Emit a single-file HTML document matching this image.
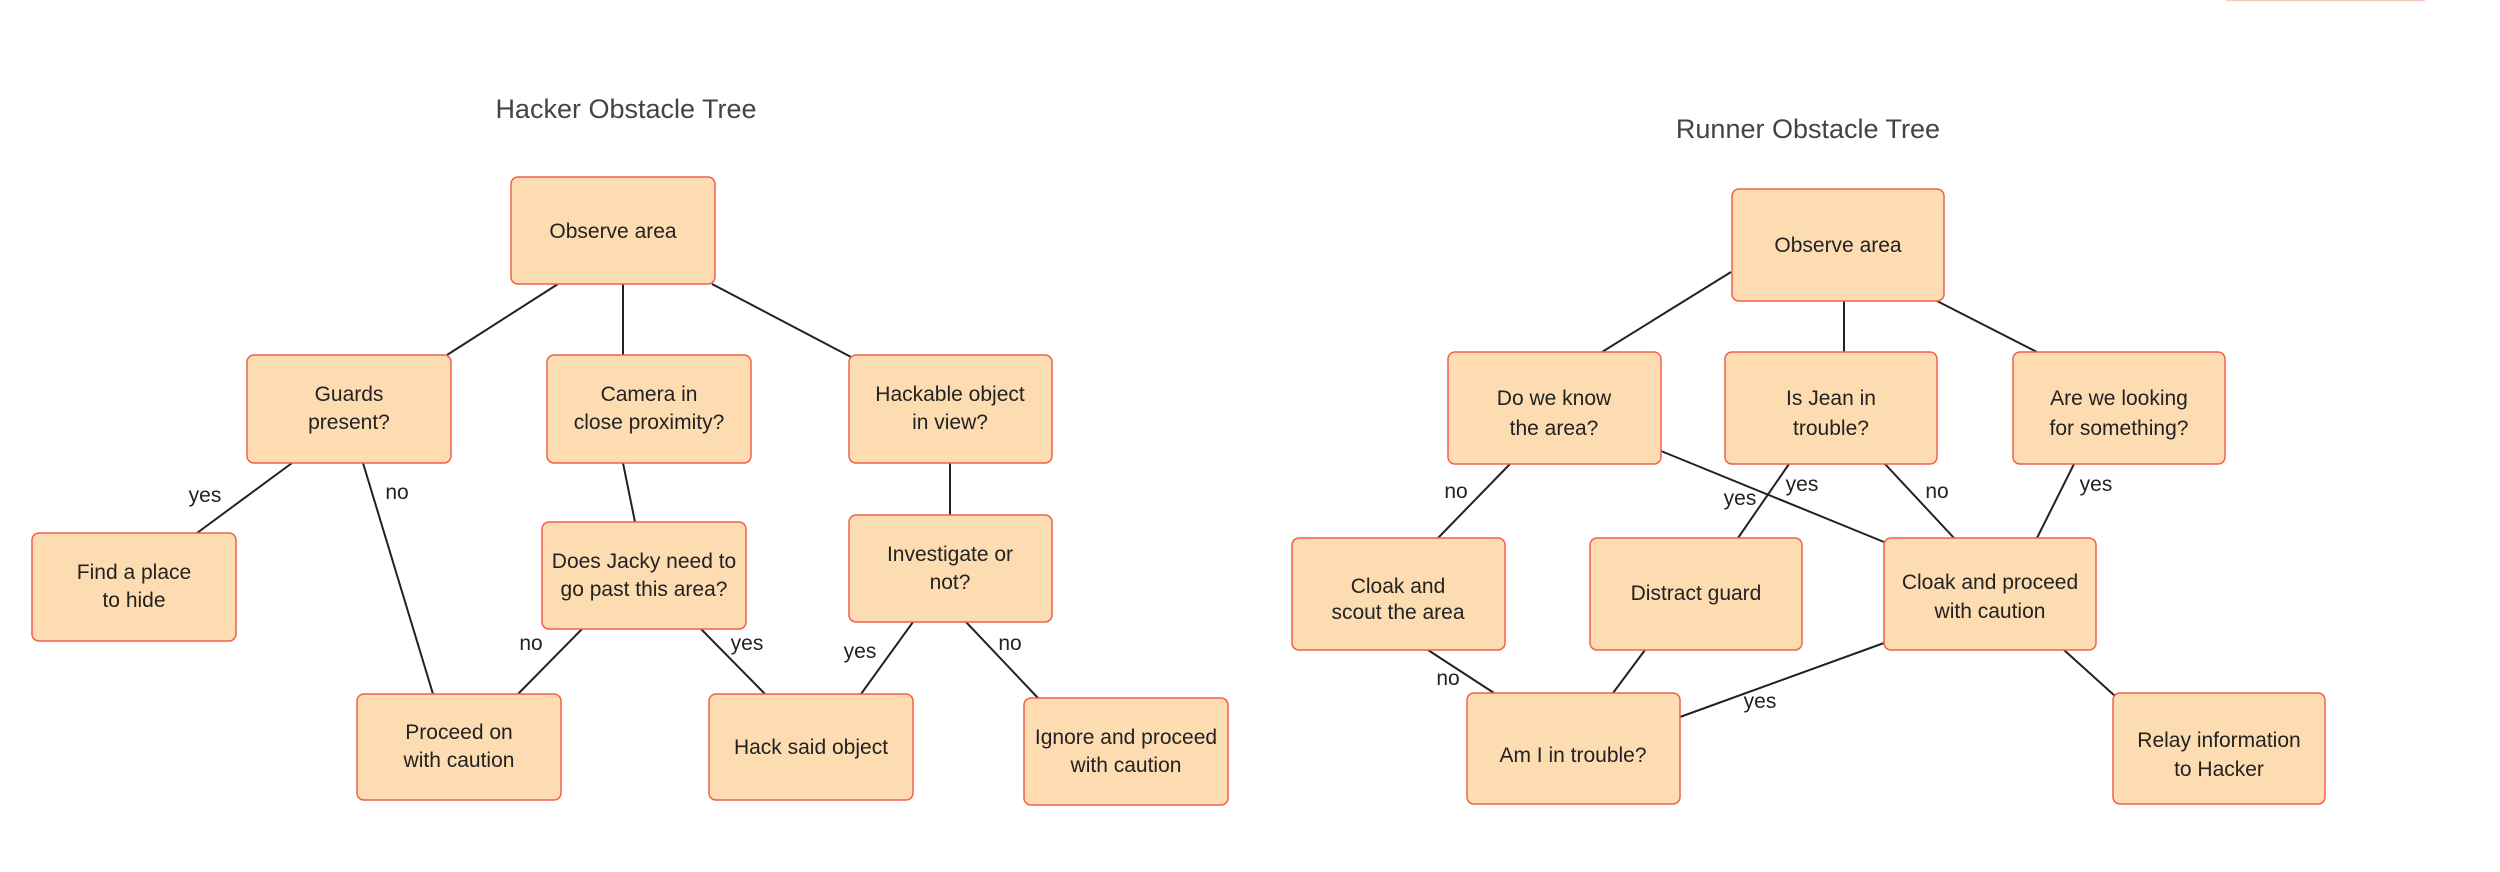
<!DOCTYPE html>
<html><head><meta charset="utf-8"><style>
html,body{margin:0;padding:0;background:#fff;}
svg{display:block;}
text{font-family:"Liberation Sans",sans-serif;}
.n{fill:#fedcb2;stroke:#f0604c;stroke-width:1.5;}
.t{font-size:21px;fill:#222;text-anchor:middle;}
.l{font-size:21px;fill:#222;text-anchor:middle;}
.e{stroke:#222;stroke-width:2;fill:none;}
.h{font-size:27px;fill:#444;text-anchor:middle;}
</style></head><body>
<svg width="2500" height="872" viewBox="0 0 2500 872" xmlns="http://www.w3.org/2000/svg">
<line x1="2226" y1="0.5" x2="2425" y2="0.5" stroke="#f7c9c0" stroke-width="1.5"/>
<text class="h" x="626" y="118">Hacker Obstacle Tree</text>
<text class="h" x="1808" y="138">Runner Obstacle Tree</text>

<!-- left edges -->
<g class="e">
<line x1="558" y1="284" x2="447" y2="355"/>
<line x1="623" y1="284" x2="623" y2="355"/>
<line x1="712" y1="284" x2="851" y2="357"/>
<line x1="292" y1="463" x2="197" y2="533"/>
<line x1="363" y1="463" x2="433" y2="694"/>
<line x1="623" y1="463" x2="635" y2="522"/>
<line x1="582" y1="629" x2="518" y2="694"/>
<line x1="701" y1="629" x2="765" y2="694"/>
<line x1="950" y1="463" x2="950" y2="515"/>
<line x1="913" y1="622" x2="861" y2="694"/>
<line x1="966" y1="622" x2="1038" y2="698"/>
</g>
<!-- right edges -->
<g class="e">
<line x1="1731" y1="272" x2="1602" y2="352"/>
<line x1="1844" y1="301" x2="1844" y2="352"/>
<line x1="1937" y1="301" x2="2037" y2="352"/>
<line x1="1510" y1="464" x2="1438" y2="538"/>
<line x1="1661" y1="451" x2="1884" y2="542"/>
<line x1="1789" y1="464" x2="1738" y2="538"/>
<line x1="1885" y1="464" x2="1954" y2="538"/>
<line x1="2074" y1="464" x2="2037" y2="538"/>
<line x1="1428" y1="650" x2="1494" y2="693"/>
<line x1="1645" y1="650" x2="1613" y2="693"/>
<line x1="1884" y1="643" x2="1680" y2="717"/>
<line x1="2064" y1="650" x2="2115" y2="696"/>
</g>

<!-- left nodes -->
<rect class="n" x="511" y="177" width="204" height="107" rx="7"/>
<text class="t" x="613" y="238">Observe area</text>
<rect class="n" x="247" y="355" width="204" height="108" rx="7"/>
<text class="t" x="349" y="401">Guards</text><text class="t" x="349" y="429">present?</text>
<rect class="n" x="547" y="355" width="204" height="108" rx="7"/>
<text class="t" x="649" y="401">Camera in</text><text class="t" x="649" y="429">close proximity?</text>
<rect class="n" x="849" y="355" width="203" height="108" rx="7"/>
<text class="t" x="950" y="401">Hackable object</text><text class="t" x="950" y="429">in view?</text>
<rect class="n" x="32" y="533" width="204" height="108" rx="7"/>
<text class="t" x="134" y="579">Find a place</text><text class="t" x="134" y="607">to hide</text>
<rect class="n" x="542" y="522" width="204" height="107" rx="7"/>
<text class="t" x="644" y="568">Does Jacky need to</text><text class="t" x="644" y="596">go past this area?</text>
<rect class="n" x="849" y="515" width="203" height="107" rx="7"/>
<text class="t" x="950" y="561">Investigate or</text><text class="t" x="950" y="589">not?</text>
<rect class="n" x="357" y="694" width="204" height="106" rx="7"/>
<text class="t" x="459" y="739">Proceed on</text><text class="t" x="459" y="767">with caution</text>
<rect class="n" x="709" y="694" width="204" height="106" rx="7"/>
<text class="t" x="811" y="754">Hack said object</text>
<rect class="n" x="1024" y="698" width="204" height="107" rx="7"/>
<text class="t" x="1126" y="744">Ignore and proceed</text><text class="t" x="1126" y="772">with caution</text>

<!-- left labels -->
<text class="l" x="205" y="502">yes</text>
<text class="l" x="397" y="499">no</text>
<text class="l" x="531" y="650">no</text>
<text class="l" x="747" y="650">yes</text>
<text class="l" x="860" y="658">yes</text>
<text class="l" x="1010" y="650">no</text>

<!-- right nodes -->
<rect class="n" x="1732" y="189" width="212" height="112" rx="7"/>
<text class="t" x="1838" y="252">Observe area</text>
<rect class="n" x="1448" y="352" width="213" height="112" rx="7"/>
<text class="t" x="1554" y="405">Do we know</text><text class="t" x="1554" y="435">the area?</text>
<rect class="n" x="1725" y="352" width="212" height="112" rx="7"/>
<text class="t" x="1831" y="405">Is Jean in</text><text class="t" x="1831" y="435">trouble?</text>
<rect class="n" x="2013" y="352" width="212" height="112" rx="7"/>
<text class="t" x="2119" y="405">Are we looking</text><text class="t" x="2119" y="435">for something?</text>
<rect class="n" x="1292" y="538" width="213" height="112" rx="7"/>
<text class="t" x="1398" y="593">Cloak and</text><text class="t" x="1398" y="619">scout the area</text>
<rect class="n" x="1590" y="538" width="212" height="112" rx="7"/>
<text class="t" x="1696" y="600">Distract guard</text>
<rect class="n" x="1884" y="538" width="212" height="112" rx="7"/>
<text class="t" x="1990" y="589">Cloak and proceed</text><text class="t" x="1990" y="618">with caution</text>
<rect class="n" x="1467" y="693" width="213" height="111" rx="7"/>
<text class="t" x="1573" y="762">Am I in trouble?</text>
<rect class="n" x="2113" y="693" width="212" height="111" rx="7"/>
<text class="t" x="2219" y="747">Relay information</text><text class="t" x="2219" y="776">to Hacker</text>

<!-- right labels -->
<text class="l" x="1456" y="498">no</text>
<text class="l" x="1740" y="505">yes</text>
<text class="l" x="1802" y="491">yes</text>
<text class="l" x="1937" y="498">no</text>
<text class="l" x="2096" y="491">yes</text>
<text class="l" x="1448" y="685">no</text>
<text class="l" x="1760" y="708">yes</text>
</svg>
</body></html>
